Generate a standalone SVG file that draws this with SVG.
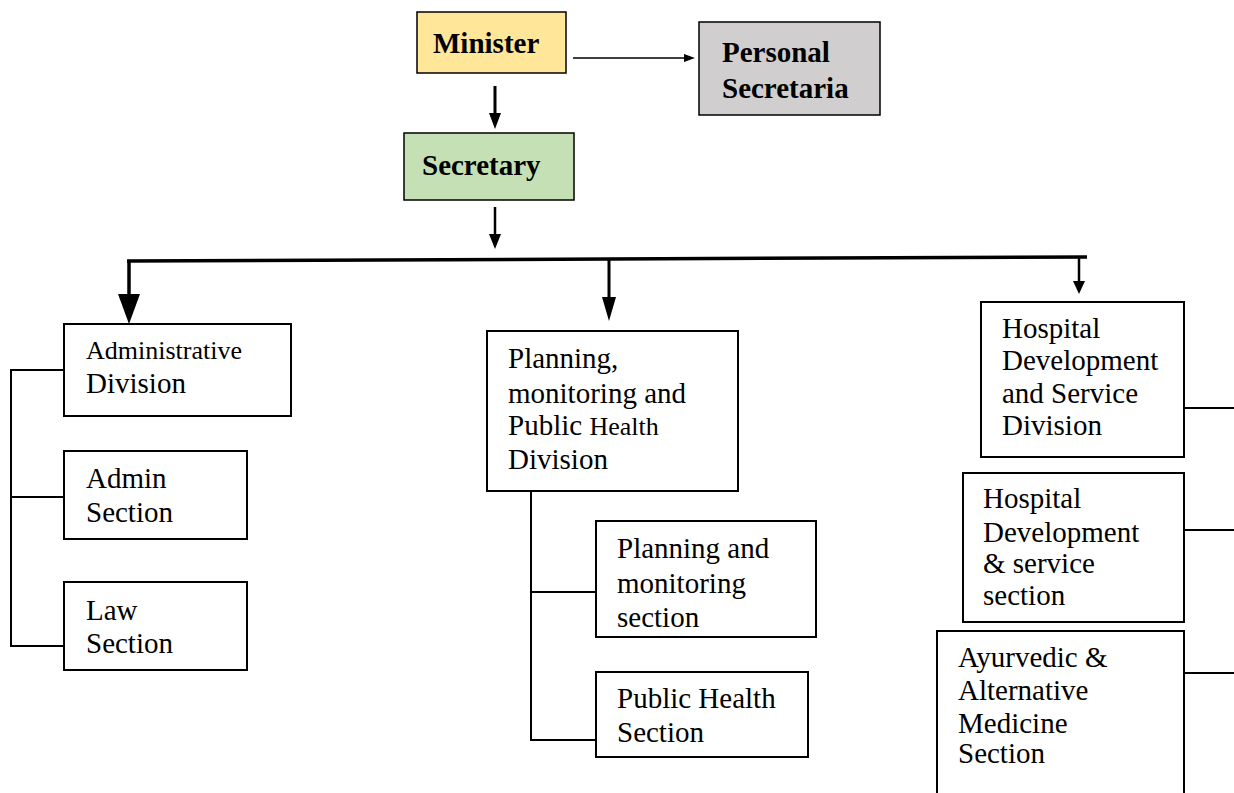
<svg xmlns="http://www.w3.org/2000/svg" width="1234" height="793" viewBox="0 0 1234 793">
<defs>
<style>
.box{fill:#fff;stroke:#000;stroke-width:2}
.t{font-family:"Liberation Serif","Times New Roman",serif;font-size:29px;fill:#000}
.b{font-weight:bold}
.ln{fill:none;stroke:#000;stroke-width:2}
.bus{fill:none;stroke:#000;stroke-width:3.5}
</style>
<marker id="ah" markerWidth="8" markerHeight="6" refX="8" refY="3" orient="auto" markerUnits="userSpaceOnUse">
<path d="M0,0 L8,3 L0,6 Z" fill="#000"/>
</marker>
</defs>
<rect width="1234" height="793" fill="#fff"/>

<g id="connectors">
<line x1="573" y1="58" x2="686" y2="58" stroke="#000" stroke-width="1.5"/>
<path d="M684,54 L695,58 L684,62 Z" fill="#000"/>
<line x1="495" y1="86" x2="495" y2="115" stroke="#000" stroke-width="3"/>
<path d="M489,113 L495,129 L501,113 Z" fill="#000"/>
<line x1="495" y1="207" x2="495" y2="236" stroke="#000" stroke-width="2.5"/>
<path d="M489,234 L495,249 L501,234 Z" fill="#000"/>
<path class="bus" d="M127,261 L609,259 L1087,257"/>
<line x1="129" y1="261" x2="129" y2="298" stroke="#000" stroke-width="3.5"/>
<path d="M118,294 L129,324 L140,294 Z" fill="#000"/>
<line x1="609" y1="259" x2="609" y2="299" stroke="#000" stroke-width="3"/>
<path d="M602,297 L609,321 L616,297 Z" fill="#000"/>
<line x1="1079" y1="257" x2="1079" y2="283" stroke="#000" stroke-width="2.5"/>
<path d="M1073,281 L1079,294 L1085,281 Z" fill="#000"/>
<path class="ln" d="M64,370 L11,370 L11,646 L64,646 M11,497 L64,497"/>
<path class="ln" d="M531,491 L531,740 L596,740 M531,592 L596,592"/>
<line class="ln" x1="1184" y1="408" x2="1234" y2="408"/>
<line class="ln" x1="1184" y1="530" x2="1234" y2="530"/>
<line class="ln" x1="1184" y1="673" x2="1234" y2="673"/>
</g>

<g id="minister">
<rect x="417" y="12" width="149" height="61" fill="#FFE699" stroke="#000" stroke-width="1.5"/>
<text class="t b" x="433" y="53">Minister</text>
</g>
<g id="personal-secretaria">
<rect x="699" y="22" width="181" height="93" fill="#D0CECE" stroke="#000" stroke-width="1.5"/>
<text class="t b" x="722" y="62">Personal</text>
<text class="t b" x="722" y="98">Secretaria</text>
</g>
<g id="secretary">
<rect x="404" y="133" width="170" height="67" fill="#C5E0B4" stroke="#000" stroke-width="1.5"/>
<text class="t b" x="422" y="175">Secretary</text>
</g>

<g id="administrative-division">
<rect class="box" x="64" y="324" width="227" height="92"/>
<text class="t" x="86" y="359" style="font-size:26px">Administrative</text>
<text class="t" x="86" y="393">Division</text>
</g>
<g id="admin-section">
<rect class="box" x="64" y="451" width="183" height="88"/>
<text class="t" x="86" y="488">Admin</text>
<text class="t" x="86" y="522">Section</text>
</g>
<g id="law-section">
<rect class="box" x="64" y="582" width="183" height="88"/>
<text class="t" x="86" y="620">Law</text>
<text class="t" x="86" y="653">Section</text>
</g>

<g id="planning-division">
<rect class="box" x="487" y="331" width="251" height="160"/>
<text class="t" x="508" y="368">Planning,</text>
<text class="t" x="508" y="403">monitoring and</text>
<text class="t" x="508" y="435">Public <tspan style="font-size:26px">Health</tspan></text>
<text class="t" x="508" y="469">Division</text>
</g>
<g id="planning-section">
<rect class="box" x="596" y="521" width="220" height="116"/>
<text class="t" x="617" y="558">Planning and</text>
<text class="t" x="617" y="593">monitoring</text>
<text class="t" x="617" y="627">section</text>
</g>
<g id="public-health-section">
<rect class="box" x="596" y="672" width="212" height="85"/>
<text class="t" x="617" y="708">Public Health</text>
<text class="t" x="617" y="742">Section</text>
</g>

<g id="hospital-division">
<rect class="box" x="981" y="302" width="203" height="155"/>
<text class="t" x="1002" y="338">Hospital</text>
<text class="t" x="1002" y="370">Development</text>
<text class="t" x="1002" y="403">and Service</text>
<text class="t" x="1002" y="435">Division</text>
</g>
<g id="hospital-section">
<rect class="box" x="963" y="473" width="221" height="149"/>
<text class="t" x="983" y="508">Hospital</text>
<text class="t" x="983" y="542">Development</text>
<text class="t" x="983" y="573">&amp; service</text>
<text class="t" x="983" y="605">section</text>
</g>
<g id="ayurvedic-section">
<rect class="box" x="937" y="631" width="247" height="180"/>
<text class="t" x="958" y="667">Ayurvedic &amp;</text>
<text class="t" x="958" y="700">Alternative</text>
<text class="t" x="958" y="733">Medicine</text>
<text class="t" x="958" y="763">Section</text>
</g>
</svg>
